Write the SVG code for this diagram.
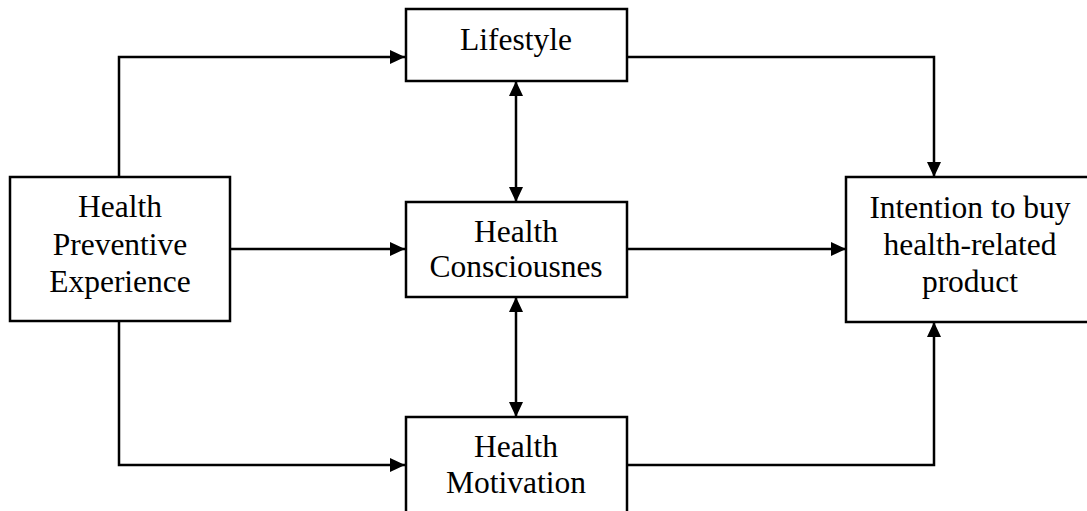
<svg xmlns="http://www.w3.org/2000/svg" width="1087" height="511" viewBox="0 0 1087 511">
  <style>
    .box { fill: #fff; stroke: #000; stroke-width: 2.5; }
    .lbl { font-family: "Liberation Serif", "Times New Roman", serif; font-size: 31.5px; fill: #000; text-anchor: middle; }
    .wire { fill: none; stroke: #000; stroke-width: 2.5; }
  </style>
  <defs>
    <marker id="head" viewBox="0 0 15 14" refX="15" refY="7" markerWidth="15" markerHeight="14" markerUnits="userSpaceOnUse" orient="auto-start-reverse">
      <path d="M0,0 L15,7 L0,14 Z" fill="#000"/>
    </marker>
  </defs>
  <rect width="1087" height="511" fill="#fff"/>

  <g id="connectors">
    <!-- experience to lifestyle -->
    <path class="wire" d="M119,177 V57 H405" marker-end="url(#head)"/>
    <!-- experience to consciousness -->
    <path class="wire" d="M230,249 H405" marker-end="url(#head)"/>
    <!-- experience to motivation -->
    <path class="wire" d="M119,321 V465 H405" marker-end="url(#head)"/>
    <!-- lifestyle to intention -->
    <path class="wire" d="M627,57 H934 V177" marker-end="url(#head)"/>
    <!-- consciousness to intention -->
    <path class="wire" d="M627,249 H846" marker-end="url(#head)"/>
    <!-- motivation to intention -->
    <path class="wire" d="M627,465 H934 V322" marker-end="url(#head)"/>
    <!-- lifestyle <-> consciousness -->
    <path class="wire" d="M516,81 V202" marker-start="url(#head)" marker-end="url(#head)"/>
    <!-- consciousness <-> motivation -->
    <path class="wire" d="M516,297 V417" marker-start="url(#head)" marker-end="url(#head)"/>
  </g>

  <g id="experience">
    <rect class="box" x="10" y="177" width="220" height="144"/>
    <text class="lbl" x="120" y="217">Health</text>
    <text class="lbl" x="120" y="254.5">Preventive</text>
    <text class="lbl" x="120" y="292">Experience</text>
  </g>

  <g id="lifestyle">
    <rect class="box" x="406" y="9" width="221" height="72"/>
    <text class="lbl" x="516" y="50">Lifestyle</text>
  </g>

  <g id="consciousness">
    <rect class="box" x="406" y="202" width="221" height="95"/>
    <text class="lbl" x="516" y="242">Health</text>
    <text class="lbl" x="516" y="277">Consciousnes</text>
  </g>

  <g id="motivation">
    <rect class="box" x="406" y="417" width="221" height="110"/>
    <text class="lbl" x="516" y="457">Health</text>
    <text class="lbl" x="516" y="493">Motivation</text>
  </g>

  <g id="intention">
    <rect class="box" x="846" y="177" width="248" height="145"/>
    <text class="lbl" x="970" y="218">Intention to buy</text>
    <text class="lbl" x="970" y="255">health-related</text>
    <text class="lbl" x="970" y="292">product</text>
  </g>
</svg>
